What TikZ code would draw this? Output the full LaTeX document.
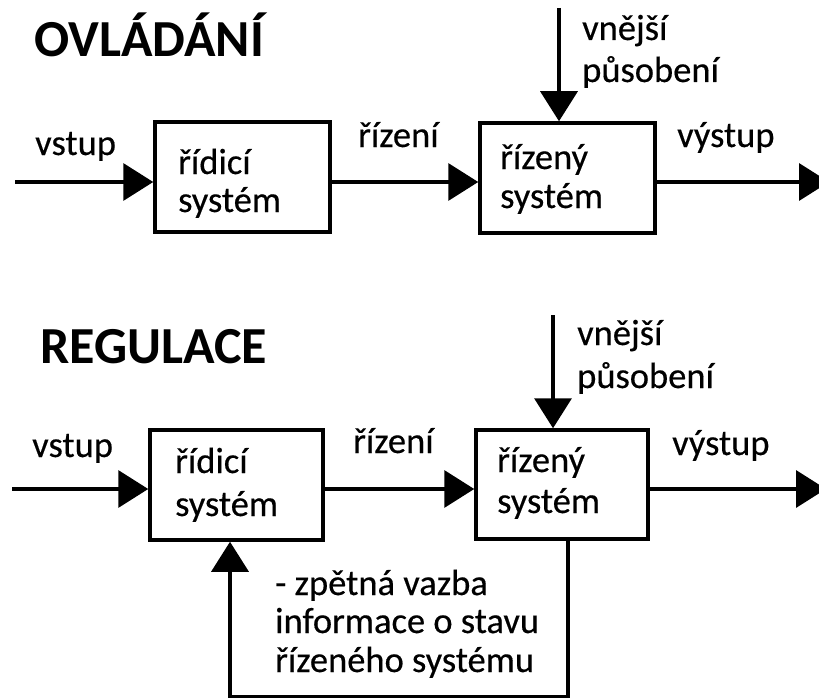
\documentclass[tikz,border=0pt]{standalone}
\usepackage{fontspec}
\setmainfont{Carlito}
\newfontfamily\labelfont{Carlito}[RawFeature={embolden=0.4}]
\usetikzlibrary{arrows.meta}
\begin{document}
\begin{tikzpicture}[x=1pt,y=-1pt,
  box/.style={draw,line width=3.5pt,inner sep=0pt,minimum height=110pt,minimum width=175pt},
  flow/.style={line width=3.5pt,-{Triangle[length=30pt,width=37pt]}},
  txt/.style={anchor=base west,inner sep=0pt,font=\labelfont\fontsize{36.5}{40}\selectfont},
  heading/.style={anchor=base west,inner sep=0pt,font=\fontsize{52}{60}\selectfont\bfseries}]
\useasboundingbox (0,0) rectangle (819,698);
\fill[white] (0,0) rectangle (819,698);

% ---------- open-loop control ----------
\node[heading] (h1) at (34,57) {OVLÁDÁNÍ};
\node[box] (c1) at (242.5,177) {};
\node[box] (p1) at (567.5,178) {};

\coordinate (in1) at (15,182);
\coordinate (ext1) at (559,8);
\coordinate (out1) at (829,182);

\draw[flow] (in1) -- (in1 -| c1.west);
\draw[flow] (c1.east |- in1) -- (p1.west |- in1);
\draw[flow] (ext1) -- (ext1 |- p1.north);
\draw[flow] (p1.east |- out1) -- (out1);

\node[txt] (vs1) at (35,155) {vstup};
\node[txt] (r1) at (358,147) {řízení};
\node[txt] (ve1) at (582,40) {vnější};
\node[txt] (pu1) at (582,82) {působení};
\node[txt] (vy1) at (677,147) {výstup};
\node[txt] (c1a) at (178,174) {řídicí};
\node[txt] (c1b) at (178,212) {systém};
\node[txt] (p1a) at (500,169) {řízený};
\node[txt] (p1b) at (500,208) {systém};

% ---------- closed-loop control ----------
\node[heading] (h2) at (40,363) {REGULACE};
\node[box,minimum width=173pt] (c2) at (236.5,485) {};
\node[box,minimum width=172pt,minimum height=109pt] (p2) at (562,484.5) {};

\coordinate (in2) at (12,489);
\coordinate (ext2) at (553,315);
\coordinate (out2) at (826,489);
\coordinate (fbr) at (568,697);
\coordinate (fbl) at (230,697);

\draw[flow] (in2) -- (in2 -| c2.west);
\draw[flow] (c2.east |- in2) -- (p2.west |- in2);
\draw[flow] (ext2) -- (ext2 |- p2.north);
\draw[flow] (p2.east |- out2) -- (out2);
\draw[flow] (fbr |- p2.south) -- (fbr) -- (fbl) -- (fbl |- c2.south);

\node[txt] (vs2) at (32,457) {vstup};
\node[txt] (r2) at (353,453) {řízení};
\node[txt] (ve2) at (577,345) {vnější};
\node[txt] (pu2) at (577,388) {působení};
\node[txt] (vy2) at (672,455) {výstup};
\node[txt] (c2a) at (175,473) {řídicí};
\node[txt] (c2b) at (175,516) {systém};
\node[txt] (p2a) at (497,472) {řízený};
\node[txt] (p2b) at (497,513) {systém};
\node[txt] (fb1) at (275,595) {- zpětná vazba};
\node[txt] (fb2) at (275,633) {informace o stavu};
\node[txt] (fb3) at (275,672) {řízeného systému};
\end{tikzpicture}
\end{document}
